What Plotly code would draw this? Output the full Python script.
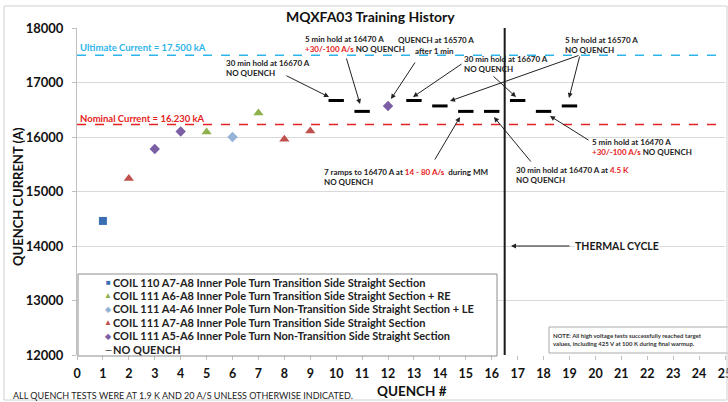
import plotly.graph_objects as go

# quench data
coil110_a7a8_x = [1]
coil110_a7a8_y = [14460]

coil111_a6a8_re_x = [5, 7]
coil111_a6a8_re_y = [16090, 16440]

coil111_a4a6_le_x = [6]
coil111_a4a6_le_y = [16000]

coil111_a7a8_x = [2, 8, 9]
coil111_a7a8_y = [15240, 15960, 16110]

coil111_a5a6_x = [3, 4, 12]
coil111_a5a6_y = [15780, 16100, 16570]

no_quench_x = [10, 11, 13, 14, 15, 16, 17, 18, 19]
no_quench_y = [16670, 16470, 16670, 16570, 16470, 16470, 16670, 16470, 16570]

ultimate_current = 17500
nominal_current = 16230
thermal_cycle_x = 16.5

legend_labels = [
    "COIL 110 A7-A8 Inner Pole Turn Transition Side Straight Section",
    "COIL 111 A6-A8 Inner Pole Turn Transition Side Straight Section + RE",
    "COIL 111 A4-A6 Inner Pole Turn Non-Transition Side Straight Section + LE",
    "COIL 111 A7-A8 Inner Pole Turn Transition Side Straight Section",
    "COIL 111 A5-A6 Inner Pole Turn Non-Transition Side Straight Section",
    "NO QUENCH",
]

FONT = "Lato"
W, H = 728, 402
L, R, T, B = 77, 3, 28, 47
PW, PH = W - L - R, H - T - B


def xd(px):
    return (px - L) / PW * 25


def yd(py):
    return 18000 - (py - T) / PH * 6000


def xp(px):
    return (px - L) / PW


def yp(py):
    return 1 - (py - T) / PH


fig = go.Figure()

series = [
    (coil110_a7a8_x, coil110_a7a8_y, "square", "#3a70b3", 8),
    (coil111_a6a8_re_x, coil111_a6a8_re_y, "triangle-up", "#8db04c", 9),
    (coil111_a4a6_le_x, coil111_a4a6_le_y, "diamond", "#95b3d7", 8),
    (coil111_a7a8_x, coil111_a7a8_y, "triangle-up", "#c0504d", 9),
    (coil111_a5a6_x, coil111_a5a6_y, "diamond", "#7b5ea3", 8),
]
for (xs, ys, sym, col, sz), name in zip(series, legend_labels):
    fig.add_trace(go.Scatter(
        x=xs, y=ys, mode="markers", name=name, showlegend=False,
        marker=dict(symbol=sym, color=col, size=sz)
    ))

fig.add_trace(go.Scatter(
    x=no_quench_x, y=no_quench_y, mode="markers", name="NO QUENCH",
    showlegend=False,
    marker=dict(symbol="line-ew", size=11, line=dict(color="black", width=3))
))

shapes = [
    dict(type="line", xref="x", yref="y", x0=0, x1=25,
         y0=ultimate_current, y1=ultimate_current,
         line=dict(color="#2fb4ea", width=1.5, dash="dash")),
    dict(type="line", xref="x", yref="y", x0=0, x1=25,
         y0=nominal_current, y1=nominal_current,
         line=dict(color="#e52222", width=1.5, dash="dash")),
    dict(type="line", xref="x", yref="y", x0=thermal_cycle_x, x1=thermal_cycle_x,
         y0=12000, y1=18000, line=dict(color="#1a1a1a", width=2)),
    # legend box
    dict(type="rect", xref="paper", yref="paper",
         x0=xp(78), x1=xp(497), y0=yp(356), y1=yp(274),
         fillcolor="white", line=dict(color="#8c8c8c", width=1), layer="above"),
    # note box
    dict(type="rect", xref="paper", yref="paper",
         x0=xp(549), x1=xp(730), y0=yp(353), y1=yp(327),
         fillcolor="white", line=dict(color="#aaaaaa", width=1), layer="above"),
    # outer frame
    dict(type="rect", xref="paper", yref="paper",
         x0=xp(4), x1=xp(727), y0=yp(400), y1=yp(6),
         line=dict(color="#d0d0d0", width=1)),
]

ann = []


def text(px, py, s, size=8, color="#222222", bold=False, anchor="left", bg=None):
    ann.append(dict(
        xref="paper", yref="paper", x=xp(px), y=yp(py), text=s,
        showarrow=False, xanchor=anchor, yanchor="middle", align="left",
        font=dict(family=FONT, size=size, color=color,
                  weight="bold" if bold else "normal"),
        bgcolor=bg, borderpad=0
    ))


def arrow(hx, hy, tx, ty):
    ann.append(dict(
        xref="x", yref="y", axref="x", ayref="y",
        x=xd(hx), y=yd(hy), ax=xd(tx), ay=yd(ty), text="",
        showarrow=True, arrowhead=2, arrowsize=1, arrowwidth=1,
        arrowcolor="#222222", standoff=0, startstandoff=0
    ))


RED = "#e52222"

text(370, 16, "MQXFA03 Training History", size=14, color="#111111", bold=True,
     anchor="center")
text(79, 47, "Ultimate Current = 17.500 kA", size=9.5, color="#2fb4ea", bold=True)
text(79, 118, "Nominal Current = 16.230 kA", size=9.5, color=RED, bold=True)

text(225, 68, "30 min hold at 16670 A<br>NO QUENCH", bold=True)
arrow(329, 97, 285, 75)

text(304, 44, "5 min hold at 16470 A<br>"
     f"<span style='color:{RED}'>+30/-100 A/s</span> NO QUENCH", bold=True)
arrow(360, 104, 346, 57)

text(397, 40, "QUENCH at 16570 A", bold=True)
text(414, 51, "after 1 min", bold=True)
arrow(391, 99, 416, 61)

text(463, 64, "30 min hold at 16670 A<br>NO QUENCH", bold=True)
arrow(413, 97, 463, 63)
arrow(516, 97, 492, 75)

text(564, 45, "5 hr hold at 16570 A<br>NO QUENCH", bold=True)
arrow(450, 101, 580, 55)
arrow(569, 98, 580, 55)

text(323, 177, "7 ramps to 16470 A at "
     f"<span style='color:{RED}'>14 - 80 A/s</span>  during MM<br>NO QUENCH",
     bold=True)
arrow(460, 117, 434, 161)

text(515, 175, "30 min hold at 16470 A at "
     f"<span style='color:{RED}'>4.5 K</span><br>NO QUENCH", bold=True)
arrow(494, 117, 532, 163)

text(591, 147, "5 min hold at 16470 A<br>"
     f"<span style='color:{RED}'>+30/-100 A/s</span> NO QUENCH", bold=True)
arrow(550, 116, 590, 141)

text(574, 246, "THERMAL CYCLE", size=10.5, color="#1a1a1a", bold=True, bg="white")
arrow(511, 246, 571, 246)

text(552, 339, "NOTE: All high voltage tests successfully reached target<br>"
     "values, including 425 V at 100 K during final warmup.", size=6,
     color="#333333", bold=True)

text(12, 395, "ALL QUENCH TESTS WERE AT 1.9 K AND 20 A/S UNLESS OTHERWISE INDICATED.",
     size=9, color="#222222")
text(412, 391, "QUENCH #", size=13.5, color="#111111", bold=True, anchor="center")
ann.append(dict(
    xref="paper", yref="paper", x=xp(18), y=yp(197), text="QUENCH CURRENT (A)",
    textangle=-90, showarrow=False, xanchor="center", yanchor="middle",
    font=dict(family=FONT, size=13, color="#111111", weight="bold")
))

# legend drawn by hand so the rows stay as tight as the original
legend_syms = [("■", "#3a70b3", 8), ("▲", "#8db04c", 8), ("◆", "#95b3d7", 8),
               ("▲", "#c0504d", 8), ("◆", "#7b5ea3", 8), ("—", "#111111", 9)]
for i, ((sym, col, ssz), lab) in enumerate(zip(legend_syms, legend_labels)):
    py = 282 + i * 13.4
    text(108, py, sym, size=ssz, color=col, anchor="center")
    text(112, py, lab, size=11, color="#222222", bold=True)

fig.update_layout(
    width=W, height=H,
    margin=dict(l=L, r=R, t=T, b=B, autoexpand=False),
    paper_bgcolor="white", plot_bgcolor="white",
    font=dict(family=FONT, color="#222222"),
    shapes=shapes, annotations=ann,
    xaxis=dict(
        range=[0, 25], dtick=1, tick0=0, showgrid=False, zeroline=False,
        showline=False, ticks="outside", ticklen=4, tickcolor="#bfbfbf",
        tickfont=dict(family=FONT, size=12.5, color="#111111", weight="bold"),
        ticklabelstandoff=3, ticklabeloverflow="allow", automargin=False,
    ),
    yaxis=dict(
        range=[12000, 18000], dtick=1000, tickformat="d", showgrid=True,
        gridcolor="#d9d9d9", zeroline=False, showline=True, linecolor="#bfbfbf",
        ticks="outside", ticklen=4, tickcolor="#bfbfbf",
        tickfont=dict(family=FONT, size=13, color="#111111", weight="bold"),
        ticklabelstandoff=6, automargin=False,
    ),
)

# page body has a default margin, drop it so the figure sits at 0,0
fig.write_html("out.html", config={"displayModeBar": False},
               post_script="document.body.style.margin='0';")
